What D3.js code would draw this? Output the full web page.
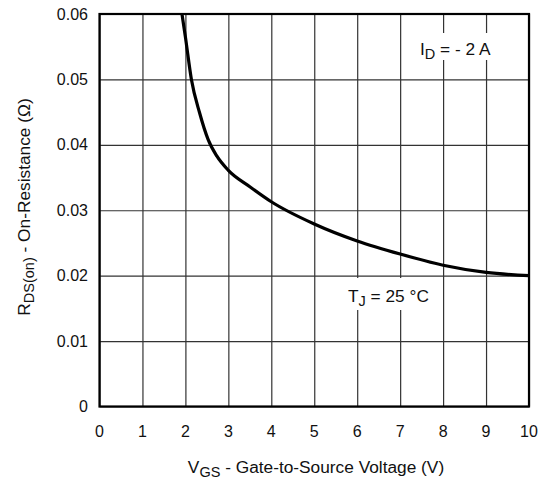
<!DOCTYPE html>
<html lang="en">
    <head>
        <meta charset="utf-8">
        <title>On-Resistance vs Gate-to-Source Voltage</title>
        <script src="https://d3js.org/d3.v7.min.js"></script>
        <style>
            body { margin: 0; background: #fff; }
            text { font-family: "Liberation Sans", Arial, sans-serif; fill: #111; }
        </style>
    </head>
    <body>
        <script type="text/javascript">

            var w = 545;
            var h = 484;

            // curve
            var vgs = [1.92, 2.0, 2.14, 2.33, 2.53, 2.73, 3.0, 3.5, 4.0, 5, 6, 7, 8, 9, 10];
            var rds = [0.060, 0.0565, 0.050, 0.0449, 0.0408, 0.0383, 0.0361, 0.0336, 0.0313, 0.0279, 0.0253, 0.0233, 0.0216, 0.0205, 0.0200];

            var xTicks = [0, 1, 2, 3, 4, 5, 6, 7, 8, 9, 10];
            var yTicks = [0, 0.01, 0.02, 0.03, 0.04, 0.05, 0.06];
            var yTickLabels = ["0", "0.01", "0.02", "0.03", "0.04", "0.05", "0.06"];

            var pLeft = 99.5, pRight = 529, pTop = 14, pBottom = 406.5;
            var fs = 16, fsT = 17.3, fsSub = 14.5;

            var x = d3.scaleLinear().domain([0, 10]).range([pLeft, pRight]);
            var y = d3.scaleLinear().domain([0, 0.06]).range([pBottom, pTop]);

            var svg = d3.select("body")
                        .append("svg")
                        .attr("width", w)
                        .attr("height", h);

            // grid
            svg.append("g")
               .attr("transform", "translate(0," + pBottom + ")")
               .call(d3.axisBottom(x).tickValues(xTicks).tickSize(-(pBottom - pTop)).tickFormat(""))
               .call(function(g) {
                   g.select(".domain").remove();
                   g.selectAll("line").attr("stroke", "#333").attr("stroke-width", 1.2);
               });
            svg.append("g")
               .attr("transform", "translate(" + pLeft + ",0)")
               .call(d3.axisLeft(y).tickValues(yTicks).tickSize(-(pRight - pLeft)).tickFormat(""))
               .call(function(g) {
                   g.select(".domain").remove();
                   g.selectAll("line").attr("stroke", "#333").attr("stroke-width", 1.2);
               });

            // white boxes behind the annotations
            svg.append("rect").attr("x", 417).attr("y", 33).attr("width", 78).attr("height", 27).attr("fill", "#fff");
            svg.append("rect").attr("x", 345).attr("y", 278).attr("width", 88).attr("height", 32).attr("fill", "#fff");

            // frame
            svg.append("rect")
               .attr("x", pLeft).attr("y", pTop)
               .attr("width", pRight - pLeft).attr("height", pBottom - pTop)
               .attr("fill", "none").attr("stroke", "#000").attr("stroke-width", 2.2);

            // curve
            var pts = vgs.map(function(v, i) { return [v, rds[i]]; });
            svg.append("path")
               .datum(pts)
               .attr("fill", "none")
               .attr("stroke", "#000")
               .attr("stroke-width", 3.2)
               .attr("d", d3.line()
                   .x(function(d) { return x(d[0]); })
                   .y(function(d) { return y(d[1]); })
                   .curve(d3.curveMonotoneX));

            // tick labels
            svg.append("g").selectAll("text")
               .data(xTicks)
               .enter()
               .append("text")
               .attr("x", function(d) { return x(d); })
               .attr("y", 437)
               .attr("text-anchor", "middle")
               .attr("font-size", fs)
               .text(function(d) { return d; });

            svg.append("g").selectAll("text")
               .data(yTicks)
               .enter()
               .append("text")
               .attr("x", 88)
               .attr("y", function(d) { return y(d) + 5.5; })
               .attr("text-anchor", "end")
               .attr("font-size", fs)
               .text(function(d, i) { return yTickLabels[i]; });

            // axis titles
            var xt = svg.append("text")
               .attr("x", 316)
               .attr("y", 473)
               .attr("text-anchor", "middle")
               .attr("font-size", fsT);
            xt.append("tspan").text("V");
            xt.append("tspan").attr("dy", 4).attr("font-size", fsSub).text("GS");
            xt.append("tspan").attr("dy", -4).text(" - Gate-to-Source Voltage (V)");

            var yt = svg.append("text")
               .attr("transform", "translate(30,207) rotate(-90)")
               .attr("text-anchor", "middle")
               .attr("font-size", fsT);
            yt.append("tspan").text("R");
            yt.append("tspan").attr("dy", 4).attr("font-size", fsSub).text("DS(on)");
            yt.append("tspan").attr("dy", -4).text(" - On-Resistance (\u03A9)");

            // annotations
            var id = svg.append("text").attr("x", 420).attr("y", 55).attr("font-size", fsT);
            id.append("tspan").text("I");
            id.append("tspan").attr("dy", 4).attr("font-size", fsSub).text("D");
            id.append("tspan").attr("dy", -4).text(" = - 2 A");

            var tj = svg.append("text").attr("x", 348).attr("y", 302).attr("font-size", fsT);
            tj.append("tspan").text("T");
            tj.append("tspan").attr("dy", 4).attr("font-size", fsSub).text("J");
            tj.append("tspan").attr("dy", -4).text(" = 25 \u00B0C");

        </script>
    </body>
</html>
